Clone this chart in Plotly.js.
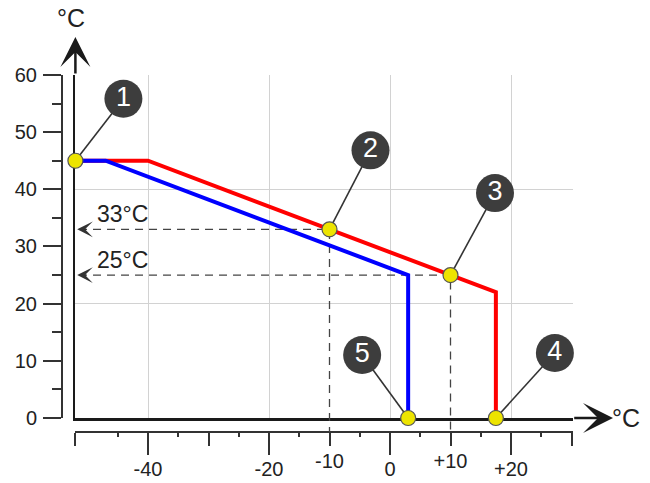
<!DOCTYPE html>
<html>
<head>
<meta charset="utf-8">
<script src="https://cdn.plot.ly/plotly-3.0.1.min.js"></script>
<style>html,body{margin:0;padding:0;background:#fff;}#chart{width:650px;height:483px;}</style>
</head>
<body>
<div id="chart"></div>
<script>
// ---- data ----
const redX = [-52, -40, 17.5, 17.5];
const redY = [45, 45, 22, 0];
const blueX = [-52, -47, 3, 3];
const blueY = [45, 45, 25, 0];
const pointX = [-52, -10, 10, 17.5, 3];
const pointY = [45, 33, 25, 0, 0];
const pointLabels = ['1', '2', '3', '4', '5'];
const refOutdoor = [-10, 10];
const refFlow = [33, 25];
const refLabels = ['33°C', '25°C'];
const xMajorTicks = [-40, -20, 0, 20];
const xMajorLabels = ['-40', '-20', '0', '+20'];
const xMidTicks = [-52, -30, -10, 10, 30];
const xMidLabels = ['', '', '-10', '+10', ''];
const xMinorTicks = [-45, -35, -25, -15, -5, 5, 15, 25];
const yMajorTicks = [0, 10, 20, 30, 40, 50, 60];
const yMinorTicks = [5, 15, 25, 35, 45, 55];

// ---- geometry / style ----
const W = 650, H = 483;
const PX0 = 390, SX = 6.05;   // pixel of x=0, px per unit
const PY0 = 418, SY = 5.7167; // pixel of y=0, px per unit
const X_MIN = -52, X_MAX = 30.2, Y_MIN = 0, Y_MAX = 60;
const RULER_X_PX = 432, RULER_Y_PX = 62;
const calloutOffsetPx = [[48, -62], [41, -79], [44.5, -82], [59, -65], [-46, -63]];
const FONT = 'Liberation Sans, Arial, sans-serif';
const INK = '#222';

const xpx = v => PX0 + SX * v;
const ypx = v => PY0 - SY * v;
const pxToX = p => (p - PX0) / SX;
const pxToY = p => (PY0 - p) / SY;

const xDomA = [xpx(X_MIN) / W, xpx(X_MAX) / W];
const yDomA = [1 - ypx(Y_MIN) / H, 1 - ypx(Y_MAX) / H];
const rangeA = [X_MIN, X_MAX];

// callout positions derived from points + pixel offsets
const calloutX = pointX.map((v, i) => v + calloutOffsetPx[i][0] / SX);
const calloutY = pointY.map((v, i) => v - calloutOffsetPx[i][1] / SY);
const leadX = [], leadY = [];
pointX.forEach((v, i) => { leadX.push(v, calloutX[i], null); leadY.push(pointY[i], calloutY[i], null); });

// dashed reference lines: from the curve point to y-axis, and down to the ruler
const rulerY = pxToY(RULER_X_PX);
const dashX = [], dashY = [];
refOutdoor.forEach((v, i) => {
  dashX.push(X_MIN + 0.6, v, v, null);
  dashY.push(refFlow[i], refFlow[i], rulerY, null);
});

// empty traces so that the axis-only subplots (grid, rulers) get drawn
const axisHolders = [['x', 'y'], ['x2', 'y'], ['x4', 'y'], ['x5', 'y'], ['x', 'y2'], ['x', 'y4']]
  .map(p => ({x: [], y: [], xaxis: p[0], yaxis: p[1], mode: 'lines', hoverinfo: 'skip'}));

const B = {xaxis: 'x3', yaxis: 'y3'};
const traces = axisHolders.concat([
  Object.assign({x: dashX, y: dashY, mode: 'lines', line: {color: '#444', width: 1.3, dash: '8px,6px'}, hoverinfo: 'skip'}, B),
  Object.assign({x: redX, y: redY, mode: 'lines', line: {color: '#ff0000', width: 4}, hoverinfo: 'skip'}, B),
  Object.assign({x: blueX, y: blueY, mode: 'lines', line: {color: '#0000ff', width: 4}, hoverinfo: 'skip'}, B),
  Object.assign({x: leadX, y: leadY, mode: 'lines', line: {color: '#333', width: 1.6}, hoverinfo: 'skip'}, B),
  Object.assign({x: pointX, y: pointY, mode: 'markers', cliponaxis: false,
    marker: {size: 15, color: '#ede400', line: {color: '#555', width: 1.2}}, hoverinfo: 'skip'}, B),
  Object.assign({x: calloutX, y: calloutY, mode: 'markers+text', cliponaxis: false, text: pointLabels,
    textposition: 'middle center', textfont: {family: FONT, size: 27, color: '#fff'},
    marker: {size: 38, color: '#3d3d3d', line: {width: 0}}, hoverinfo: 'skip'}, B)
]);

const tickFont = {family: FONT, size: 20, color: INK};
const axisBase = {showgrid: false, zeroline: false, fixedrange: true};

const layout = {
  width: W, height: H,
  margin: {l: 0, r: 0, t: 0, b: 0},
  paper_bgcolor: '#fff', plot_bgcolor: 'rgba(0,0,0,0)',
  showlegend: false,
  xaxis: {domain: xDomA, range: rangeA, anchor: 'y', showgrid: true, gridcolor: '#d2d2d2', gridwidth: 1,
    tick0: 0, dtick: 20, ticks: '', showticklabels: false, zeroline: false,
    showline: true, linecolor: '#1a1a1a', linewidth: 2.5, layer: 'below traces', fixedrange: true},
  yaxis: {domain: yDomA, range: [Y_MIN, Y_MAX], anchor: 'x', showgrid: true, gridcolor: '#d2d2d2', gridwidth: 1,
    tick0: 0, dtick: 20, ticks: '', showticklabels: false, zeroline: false,
    showline: true, linecolor: '#1a1a1a', linewidth: 2.5, layer: 'below traces', fixedrange: true},
  // x ruler (major ticks + labels)
  xaxis2: Object.assign({}, axisBase, {overlaying: 'x', anchor: 'free', position: 1 - RULER_X_PX / H, side: 'bottom',
    range: rangeA, showline: true, linecolor: '#333', linewidth: 2,
    ticks: 'outside', tickvals: xMajorTicks, ticktext: xMajorLabels, ticklen: 22, tickwidth: 2, tickcolor: '#333',
    tickfont: tickFont, ticklabelstandoff: -3}),
  // x ruler (medium ticks)
  xaxis4: Object.assign({}, axisBase, {overlaying: 'x', anchor: 'free', position: 1 - RULER_X_PX / H, side: 'bottom',
    range: rangeA, showline: false, ticks: 'outside', tickvals: xMidTicks, ticktext: xMidLabels,
    ticklen: 13, tickwidth: 2, tickcolor: '#333', tickfont: tickFont, ticklabelstandoff: -2}),
  // x ruler (short ticks)
  xaxis5: Object.assign({}, axisBase, {overlaying: 'x', anchor: 'free', position: 1 - RULER_X_PX / H, side: 'bottom',
    range: rangeA, showline: false, ticks: 'outside', tickvals: xMinorTicks, showticklabels: false,
    ticklen: 4, tickwidth: 2, tickcolor: '#333'}),
  // y ruler
  yaxis2: Object.assign({}, axisBase, {overlaying: 'y', anchor: 'free', position: RULER_Y_PX / W, side: 'left',
    range: [Y_MIN, Y_MAX], showline: true, linecolor: '#333', linewidth: 2,
    ticks: 'outside', tickvals: yMajorTicks, ticklen: 18, tickwidth: 2, tickcolor: '#333', tickfont: tickFont,
    ticklabelstandoff: 2}),
  yaxis4: Object.assign({}, axisBase, {overlaying: 'y', anchor: 'free', position: RULER_Y_PX / W, side: 'left',
    range: [Y_MIN, Y_MAX], showline: false, ticks: 'outside', tickvals: yMinorTicks, showticklabels: false,
    ticklen: 10, tickwidth: 2, tickcolor: '#333'}),
  // full-figure drawing layer with the same scale
  xaxis3: {domain: [0, 1], anchor: 'y3', range: [pxToX(0), pxToX(W)], visible: false, fixedrange: true},
  yaxis3: {domain: [0, 1], anchor: 'x3', range: [pxToY(H), pxToY(0)], visible: false, fixedrange: true},
  annotations: [
    // axis arrowheads
    {xref: 'x3', yref: 'y3', axref: 'x3', ayref: 'y3', x: X_MIN, y: pxToY(37), ax: X_MIN, ay: Y_MAX,
      text: '', showarrow: true, arrowhead: 3, arrowsize: 2, arrowwidth: 2.5, arrowcolor: '#1a1a1a'},
    {xref: 'x3', yref: 'y3', axref: 'x3', ayref: 'y3', x: pxToX(613), y: 0, ax: X_MAX, ay: 0,
      text: '', showarrow: true, arrowhead: 3, arrowsize: 2, arrowwidth: 2.5, arrowcolor: '#1a1a1a'},
    // axis unit labels
    {xref: 'paper', yref: 'paper', x: 71 / W, y: 1 - 18 / H, text: '°C', showarrow: false,
      font: {family: FONT, size: 25, color: INK}, xanchor: 'center', yanchor: 'middle'},
    {xref: 'paper', yref: 'paper', x: 626 / W, y: 1 - 418 / H, text: '°C', showarrow: false,
      font: {family: FONT, size: 25, color: INK}, xanchor: 'center', yanchor: 'middle'}
  ].concat(refFlow.map(v => ({
    xref: 'x3', yref: 'y3', axref: 'x3', ayref: 'y3', x: X_MIN + 0.3, y: v, ax: X_MIN + 2, ay: v,
    text: '', showarrow: true, arrowhead: 3, arrowsize: 2, arrowwidth: 1.3, arrowcolor: '#333'
  }))).concat(refFlow.map((v, i) => ({
    xref: 'x3', yref: 'y3', x: pxToX(95), y: v, yshift: 15, text: refLabels[i], showarrow: false,
    xanchor: 'left', yanchor: 'middle', font: {family: FONT, size: 23, color: INK}
  })))
};

Plotly.newPlot('chart', traces, layout, {displayModeBar: false, staticPlot: true});
</script>
</body>
</html>
